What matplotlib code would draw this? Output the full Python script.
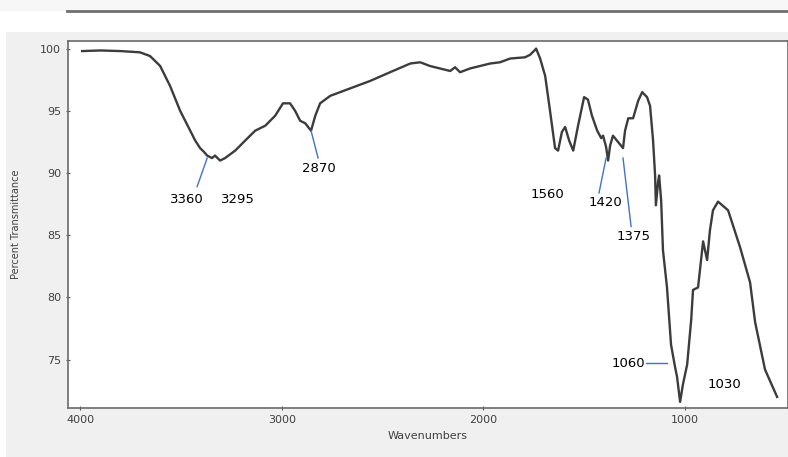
import numpy as np
import matplotlib.pyplot as plt
from matplotlib.patches import Rectangle
from matplotlib.lines import Line2D

# FTIR spectrum (wavenumber, % transmittance)
wavenumber = [3990, 3899, 3799, 3703, 3653, 3603, 3554, 3504, 3454, 3429, 3405,
              3386, 3370, 3346, 3331, 3306, 3281, 3231, 3182, 3132, 3082, 3033,
              2994, 2959, 2934, 2909, 2884, 2855, 2834, 2810, 2760, 2661, 2562,
              2463, 2363, 2314, 2265, 2215, 2165, 2141, 2116, 2067, 2017, 1967,
              1918, 1868, 1794, 1769, 1744, 1739, 1719, 1694, 1670, 1645, 1630,
              1611, 1595, 1575, 1555, 1531, 1501, 1482, 1462, 1436, 1416, 1407,
              1392, 1382, 1372, 1358, 1338, 1308, 1298, 1282, 1258, 1233, 1213,
              1189, 1174, 1159, 1149, 1145, 1134, 1129, 1119, 1110, 1090, 1070,
              1050, 1040, 1025, 1011, 990, 970, 961, 936, 911, 891, 877, 862,
              837, 787, 728, 678, 653, 604, 544]
transmittance = [99.8, 99.85, 99.8, 99.7, 99.4, 98.6, 97.0, 95.0, 93.4, 92.6, 92.0,
                 91.7, 91.4, 91.2, 91.4, 91.0, 91.2, 91.8, 92.6, 93.4, 93.8, 94.6,
                 95.6, 95.6, 95.0, 94.2, 94.0, 93.4, 94.6, 95.6, 96.2, 96.8, 97.4,
                 98.1, 98.8, 98.9, 98.6, 98.4, 98.2, 98.5, 98.1, 98.4, 98.6, 98.8,
                 98.9, 99.2, 99.3, 99.5, 99.9, 100.0, 99.2, 97.8, 95.0, 92.0, 91.8,
                 93.3, 93.7, 92.6, 91.8, 93.8, 96.1, 95.9, 94.6, 93.4, 92.8, 93.0,
                 92.1, 91.0, 92.2, 93.0, 92.6, 92.0, 93.4, 94.4, 94.4, 95.8, 96.5,
                 96.1, 95.4, 92.6, 89.8, 87.4, 89.3, 89.8, 87.8, 83.8, 80.8, 76.2,
                 74.4, 73.6, 71.6, 73.0, 74.6, 78.2, 80.6, 80.8, 84.5, 83.0, 85.4,
                 87.0, 87.7, 87.0, 84.05, 81.2, 78.0, 74.2, 72.0]

# peak labels: text, text position, optional leader line (from -> to)
labels = ["3360", "3295", "2870", "1560", "1420", "1375", "1060", "1030"]
label_x = [3469, 3217, 2815, 1685, 1397, 1258, 1283, 807]
label_y = [87.9, 87.9, 90.4, 88.3, 87.6, 84.9, 74.7, 73.0]
leaders = {
    "3360": ((3420, 88.9), (3370, 91.2)),
    "2870": ((2820, 91.2), (2855, 93.4)),
    "1420": ((1427, 88.4), (1392, 91.2)),
    "1375": ((1268, 85.7), (1308, 91.2)),
    "1060": ((1194, 74.7), (1090, 74.7)),
}

fig = plt.figure(figsize=(7.88, 4.57), dpi=100, facecolor="#f0f0f0")
# white strip and dark rule at the top of the screenshot
fig.patches.append(Rectangle((0, 0.93), 1, 0.045, transform=fig.transFigure,
                             facecolor="white", edgecolor="none", zorder=0))
fig.patches.append(Rectangle((0, 0.975), 1, 0.025, transform=fig.transFigure,
                             facecolor="#f7f7f7", edgecolor="none", zorder=0))
fig.patches.append(Rectangle((0, 0), 0.007, 0.93, transform=fig.transFigure,
                             facecolor="white", edgecolor="none", zorder=0))
fig.lines.append(Line2D([0.085, 1], [0.977, 0.977], transform=fig.transFigure,
                        color="#6e6e6e", lw=2))

ax = fig.add_axes([0.0863, 0.107, 0.9137, 0.803])
ax.plot(wavenumber, transmittance, color="#3c3c3c", lw=1.7)

ax.set_xlim(4060, 490)
ax.set_ylim(71.1, 100.6)
ax.set_xticks([4000, 3000, 2000, 1000])
ax.set_yticks([75, 80, 85, 90, 95, 100])
ax.tick_params(axis="both", labelsize=8, labelcolor="#404040", color="#555555",
               length=3, direction="inout")
ax.set_xlabel("Wavenumbers", fontsize=8, color="#404040", labelpad=4)
ax.set_ylabel("Percent Transmittance", fontsize=7, color="#404040", labelpad=14)
for s in ax.spines.values():
    s.set_color("#6a6a6a")
    s.set_linewidth(1.2)

for lab, tx, ty in zip(labels, label_x, label_y):
    ax.text(tx, ty, lab, fontsize=9.5, color="black", ha="center", va="center")
    if lab in leaders:
        (x0, y0), (x1, y1) = leaders[lab]
        ax.plot([x0, x1], [y0, y1], color="#4472c4", lw=1)

fig.savefig("out.png", dpi=100, facecolor=fig.get_facecolor())
